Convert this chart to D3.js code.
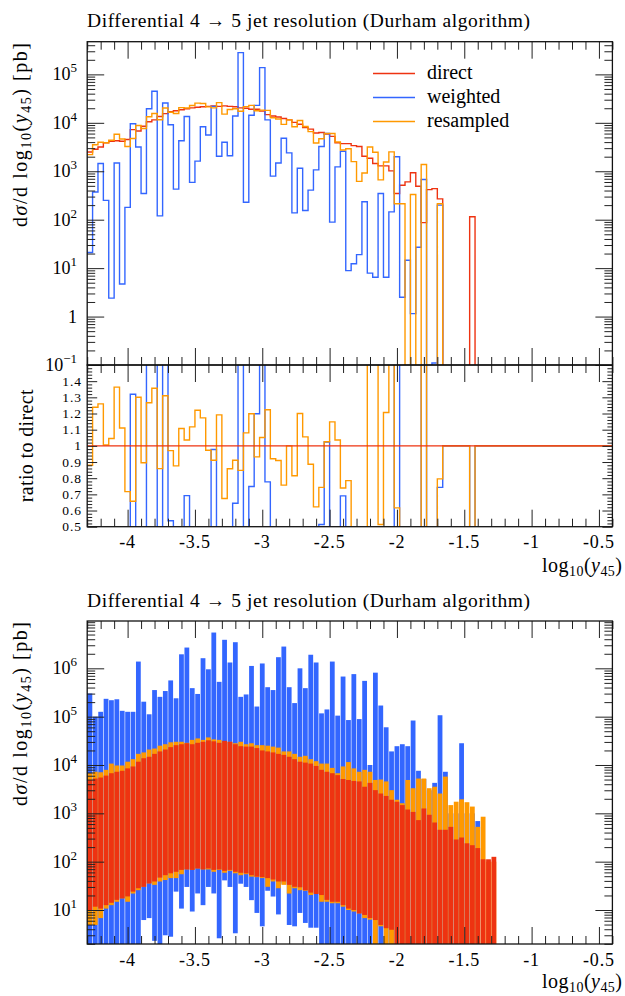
<!DOCTYPE html>
<html><head><meta charset="utf-8">
<script src="https://cdn.jsdelivr.net/npm/d3@7/dist/d3.min.js"></script>
<style>
body{margin:0;background:#fff;}
svg{display:block;}
text{font-family:"Liberation Serif","Times New Roman",serif;fill:#000;}
</style></head><body>
<svg id="c" width="625" height="996"></svg>
<script>
// ---------------- data ----------------
const binStart = -4.3, binWidth = 0.04;
const title = "Differential 4 \u2192 5 jet resolution (Durham algorithm)";
const seriesNames = ["direct", "weighted", "resampled"];
const xMajorTicks = [-4, -3.5, -3, -2.5, -2, -1.5, -1, -0.5];
const xTickLabels = ["-4", "-3.5", "-3", "-2.5", "-2", "-1.5", "-1", "-0.5"];
const topDecades = [-1, 0, 1, 2, 3, 4, 5];
const bottomDecades = [1, 2, 3, 4, 5, 6];
const ratioTickLabels = ["0.5", "0.6", "0.7", "0.8", "0.9", "1", "1.1", "1.2", "1.3", "1.4"];

// upper panel histograms (pb), one value per bin
const direct = [2500,2850,3160,3850,4170,4270,4170,4520,7240,6760,
  8510,10500,11500,13500,15500,17000,17800,18600,19500,20400,
  20900,21400,21900,22400,21900,22400,21900,21400,20400,20000,
  19100,19100,17400,14800,13800,13200,12300,11500,10200,9330,
  7940,7410,6170,6310,5890,5250,3890,3720,3720,3390,
  3240,2040,1860,1450,1290,1290,1020,347,513,603,
  933,490,87,417,437,269,0,0,0,0,0,115];
const weighted = [21,372,1450,251,2.4,1480,4.7,180,9550,3160,
  347,19500,44700,120,25700,9120,427,4270,13500,589,
  1620,8320,5620,21900,2040,3980,2090,13800,282000,229,
  14300,22900,138000,11500,794,1480,4790,2400,138,1150,
  155,407,1070,3240,6030,89,1230,2570,8.9,12.3,
  19,234,7.9,6.5,347,6.5,145,2000,2.5,14.5,
  1.15,27,676,0,0.11,200];
const resampled = [2200,3530,3980,3870,4360,5820,4630,3240,4760,8790,
  7620,13300,15600,11600,20300,16500,15600,20600,20200,22800,
  25500,25100,21300,20400,26100,15100,18800,19500,17300,21600,
  22900,17800,18300,18100,12700,12000,9310,11500,8310,11200,
  8380,6570,3840,4690,6040,6030,4030,2750,2920,1580,
  617,918,3160,2470,663,1556,2510,214,214,0,
  331,0,1380,0,0,214];

// lower panel: envelope (min / max) per bin
const directMax = [4900,5250,5500,6030,6760,7240,7590,8510,9330,11700,
  13800,14800,17000,19100,20900,23400,25700,26900,28200,26900,
  28800,30200,32400,30900,28800,31600,30200,26900,24500,24000,
  24000,22400,20000,19100,18200,17000,16200,14800,13200,11700,
  11200,10700,9550,7940,7240,6760,6170,5130,4900,4680,
  4570,3550,4270,3020,2570,2290,1910,1740,1480,1200,
  1070,724,1260,933,646,457,457,525,288,316,
  240,219,191,112,112,126];
const directMin = [10,11.7,10.7,12.6,14.1,16.2,17.4,19.1,24,28.2,
  30.2,35.5,38.9,46.8,52.5,57.5,61.7,67.6,69.2,67.6,
  72.4,69.2,72.4,67.6,69.2,64.6,67.6,61.7,58.9,57.5,
  52.5,49,47.9,45.7,42.7,38.9,38.9,33.1,30.2,29.5,
  25.7,22.9,21.4,20.4,16.2,14.8,14.8,12.6,10.7,10,
  8.5,7.9,6.8,6.2,4.9,4.2,3.9,0,0,0,
  0,0,0,0,0,0,0,0,0,0,
  0,0,0,0,0,0];
const resampledMax = [6760,7240,7080,7940,10700,9770,9770,11700,13200,17000,
  18200,20900,21900,25100,26900,29500,30200,30200,28800,33100,
  35500,33100,37200,33900,33100,30200,30200,28200,30200,26900,
  28200,25700,25700,25100,24000,22900,19100,19100,17000,14800,
  15500,13200,12000,10700,10700,8710,6760,9330,11500,8510,
  7240,7940,7240,4900,5010,4570,3020,1910,1620,4900,
  3310,5250,5250,3310,3550,2570,5750,1480,1740,1950,
  1700,1380,525,851,100,100];
const resampledMin = [4.9,4.9,6.8,10.7,12.6,14.8,17.4,14.8,21.9,25.7,
  30.2,35.5,33.1,38.9,41.7,45.7,45.7,55,69.2,67.6,
  72.4,69.2,69,61.7,67.6,58.9,64.6,57.5,52.5,55,
  49,47.9,45.7,30.2,38.9,28.2,33.1,21.9,28.2,25.7,
  25,20.4,21.9,14.8,14.8,13.8,13.8,11.7,10,9.3,
  8.5,6.8,6.3,0,4.6,0,0,0,0,0,
  0,0,0,0,0,0,0,0,0,0,
  0,0,0,0,0,0];
const weightedMax = [302000,100000,126000,234000,219000,229000,132000,126000,126000,1380000,
  204000,112000,355000,257000,339000,562000,240000,1950000,2690000,389000,
  295000,1620000,955000,5500000,525000,3890000,1320000,3470000,257000,288000,
  1120000,162000,1260000,407000,355000,1700000,2820000,407000,191000,1000000,
  389000,1910000,1320000,117000,141000,1380000,105000,676000,85100,759000,
  89100,550000,10000,813000,170000,60300,19100,24500,26900,24500,
  83200,7590,5130,3000,4270,107000,7240,1000,1000,28200,
  1000,1000,692,0,0,0];
const weightedMin = [0,0,0,0,0,0,0,0,0,0,
  6.2,6.8,2.3,0,3.0,2.8,24,10.7,30,9.3,
  22,12.6,30,22,2.6,41,30,3.3,35,30,
  16,8.7,4.6,25,19,8.1,35,4.9,4.6,8.7,
  5.4,4.3,4.3,0,0,0,0,0,0,0,
  0,0,0,0,0,0,0,0,0,0,
  0,0,0,0,0,0,0,0,0,0,
  0,0,0,0,0,0];

// ---------------- drawing ----------------
const COL = {direct: "#EE3311", weighted: "#3366FF", resampled: "#FF9900"};
const svg = d3.select("#c");
const NB = 98;
const L = 87.2, R = 612.4;
const x = d3.scaleLinear().domain([-4.3, -0.4]).range([L, R]);
const P1 = {t: 41.7, b: 365}, P2 = {t: 365, b: 526.7}, P3 = {t: 621, b: 944};
const yTop = d3.scaleLog().domain([0.1, 473000]).range([P1.b, P1.t]);
const yRat = d3.scaleLinear().domain([0.5, 1.5]).range([P2.b, P2.t]);
const yBot = d3.scaleLog().domain([1.98, 9530000]).range([P3.b, P3.t]);
const val = (a, k) => k < a.length ? a[k] : 0;
const edge = k => x(binStart + k * binWidth);
const clamp = (v, a, b) => Math.max(a, Math.min(b, v));

const defs = svg.append("defs");
[["c1", P1], ["c2", P2], ["c3", P3]].forEach(([id, P]) => {
  defs.append("clipPath").attr("id", id).append("rect")
    .attr("x", L).attr("y", P.t).attr("width", R - L).attr("height", P.b - P.t);
});

function stepD(yf) {
  let d = "";
  for (let k = 0; k < NB; k++) {
    const y = yf(k);
    d += (k === 0 ? `M${edge(0)},${y}` : `V${y}`) + `H${edge(k + 1)}`;
  }
  return d;
}

// ---- top panel histograms
const g1 = svg.append("g").attr("clip-path", "url(#c1)");
[["direct", direct], ["weighted", weighted], ["resampled", resampled]].forEach(([n, arr]) => {
  g1.append("path").attr("fill", "none").attr("stroke", COL[n]).attr("stroke-width", 1.4)
    .attr("d", stepD(k => { const v = val(arr, k); return v > 0 ? clamp(yTop(v), P1.t - 5, P1.b + 5) : P1.b + 5; }));
});

// ---- ratio panel
const g2 = svg.append("g").attr("clip-path", "url(#c2)");
[["weighted", weighted], ["resampled", resampled]].forEach(([n, arr]) => {
  g2.append("path").attr("fill", "none").attr("stroke", COL[n]).attr("stroke-width", 1.4)
    .attr("d", stepD(k => {
      const d = val(direct, k), v = val(arr, k);
      const r = d > 0 ? v / d : (v > 0 ? 10 : 1);
      return clamp(yRat(r), P2.t - 5, P2.b + 5);
    }));
});
g2.append("path").attr("fill", "none").attr("stroke", COL.direct).attr("stroke-width", 1.4)
  .attr("d", stepD(k => yRat(1)));

// ---- bottom panel envelopes
const g3 = svg.append("g").attr("clip-path", "url(#c3)");
const bw = edge(1) - edge(0);
[["weighted", weightedMin, weightedMax], ["resampled", resampledMin, resampledMax], ["direct", directMin, directMax]]
  .forEach(([n, lo, hi]) => {
    const rows = hi.map((h, k) => ({k, h, l: lo[k]})).filter(d => d.h > 2);
    g3.selectAll(null).data(rows).join("rect")
      .attr("x", d => edge(d.k) + 0.3).attr("width", bw - 0.6)
      .attr("y", d => yBot(d.h))
      .attr("height", d => (d.l > 0 ? yBot(d.l) : P3.b + 3) - yBot(d.h))
      .attr("fill", COL[n]);
  });

// ---- ticks & frames
const minorX = d3.range(-43, -3).map(i => i / 10).filter(v => Math.abs(v * 2 - Math.round(v * 2)) > 1e-6);
function xTicks(P) {
  [[P.b, d3.axisBottom], [P.t, d3.axisTop]].forEach(([y0, ax]) => {
    const gM = svg.append("g").attr("transform", `translate(0,${y0})`)
      .call(ax(x).tickValues(xMajorTicks).tickSize(-17).tickFormat(""));
    const gm = svg.append("g").attr("transform", `translate(0,${y0})`)
      .call(ax(x).tickValues(minorX).tickSize(-8).tickFormat(""));
    [gM, gm].forEach(g => { g.select(".domain").remove(); g.selectAll("line").attr("stroke", "#222").attr("stroke-width", 1); });
  });
}
function yTicks(scale, major, minor, majLen, minLen) {
  [[L, d3.axisLeft], [R, d3.axisRight]].forEach(([x0, ax]) => {
    const gM = svg.append("g").attr("transform", `translate(${x0},0)`)
      .call(ax(scale).tickValues(major).tickSize(-majLen).tickFormat(""));
    const gm = svg.append("g").attr("transform", `translate(${x0},0)`)
      .call(ax(scale).tickValues(minor).tickSize(-minLen).tickFormat(""));
    [gM, gm].forEach(g => { g.select(".domain").remove(); g.selectAll("line").attr("stroke", "#222").attr("stroke-width", 1); });
  });
}
function logMinor(decs, dom) {
  const out = [];
  decs.concat([decs[0] - 1]).forEach(d => { for (let m = 2; m <= 9; m++) { const v = m * Math.pow(10, d); if (v > dom[0] && v < dom[1]) out.push(v); } });
  return out;
}
xTicks(P1); xTicks(P2); xTicks(P3);
yTicks(yTop, topDecades.map(d => Math.pow(10, d)), logMinor(topDecades, yTop.domain()), 17, 8);
yTicks(yBot, bottomDecades.map(d => Math.pow(10, d)), logMinor(bottomDecades, yBot.domain()), 17, 8);
yTicks(yRat, d3.range(5, 16).map(i => i / 10), d3.range(25, 75).map(i => i / 50).filter(v => Math.abs(v * 10 - Math.round(v * 10)) > 1e-6), 10, 5);

[P1, P2, P3].forEach(P => svg.append("rect").attr("x", L).attr("y", P.t).attr("width", R - L).attr("height", P.b - P.t)
  .attr("fill", "none").attr("stroke", "#111").attr("stroke-width", 1.3));

// ---- tick labels
function xLabels(yb) {
  svg.append("g").selectAll("text").data(xMajorTicks).join("text")
    .attr("x", d => x(d)).attr("y", yb).attr("text-anchor", "middle").attr("font-size", 18).attr("letter-spacing", 0.8)
    .text((d, i) => xTickLabels[i]);
}
xLabels(548); xLabels(966);
function logLabels(scale, decs, xr) {
  decs.forEach(d => {
    const t = svg.append("text").attr("x", xr).attr("y", scale(Math.pow(10, d)) + 6).attr("text-anchor", "end").attr("font-size", 18);
    if (d === 0) { t.text("1"); return; }
    t.append("tspan").text("10");
    t.append("tspan").attr("font-size", 13).attr("dy", -8).text(d < 0 ? "\u2212" + (-d) : String(d));
  });
}
logLabels(yTop, topDecades, 77);
logLabels(yBot, bottomDecades, 77);
svg.append("g").selectAll("text").data(ratioTickLabels).join("text")
  .attr("x", 82).attr("y", d => yRat(+d) + 4.5).attr("text-anchor", "end").attr("font-size", 13.5).attr("letter-spacing", 1)
  .text(d => d);

// ---- titles & axis labels
[27, 606.5].forEach(yb => svg.append("text").attr("x", 87).attr("y", yb).attr("font-size", 19.5)
  .attr("textLength", 443).attr("lengthAdjust", "spacing").text(title));

function yLabel(yTopPos) {
  const t = svg.append("text").attr("transform", `translate(27,${yTopPos}) rotate(-90)`).attr("text-anchor", "end").attr("font-size", 20)
    .attr("textLength", 184).attr("lengthAdjust", "spacing");
  t.append("tspan").text("d");
  t.append("tspan").attr("font-style", "italic").text("\u03c3");
  t.append("tspan").text("/d log");
  t.append("tspan").attr("font-size", 14).attr("dy", 4).text("10");
  t.append("tspan").attr("dy", -4).text("(");
  t.append("tspan").attr("font-style", "italic").text("y");
  t.append("tspan").attr("font-size", 14).attr("dy", 4).text("45");
  t.append("tspan").attr("dy", -4).text(") [pb]");
}
yLabel(43); yLabel(622);
svg.append("text").attr("transform", `translate(33,${yRat(1)}) rotate(-90)`).attr("text-anchor", "middle").attr("font-size", 20)
  .attr("textLength", 113).attr("lengthAdjust", "spacing").text("ratio to direct");

function xLabel(yb) {
  const t = svg.append("text").attr("x", 622).attr("y", yb).attr("text-anchor", "end").attr("font-size", 20)
    .attr("textLength", 80).attr("lengthAdjust", "spacing");
  t.append("tspan").text("log");
  t.append("tspan").attr("font-size", 14).attr("dy", 4).text("10");
  t.append("tspan").attr("dy", -4).text("(");
  t.append("tspan").attr("font-style", "italic").text("y");
  t.append("tspan").attr("font-size", 14).attr("dy", 4).text("45");
  t.append("tspan").attr("dy", -4).text(")");
}
xLabel(572); xLabel(988);

// ---- legend
const legY = [73.5, 97.5, 121.5];
seriesNames.forEach((n, i) => {
  svg.append("line").attr("x1", 373).attr("x2", 415).attr("y1", legY[i]).attr("y2", legY[i]).attr("stroke", COL[n]).attr("stroke-width", 1.4);
  svg.append("text").attr("x", 427).attr("y", legY[i] + 5.5).attr("font-size", 20).text(n);
});
</script>
</body></html>
